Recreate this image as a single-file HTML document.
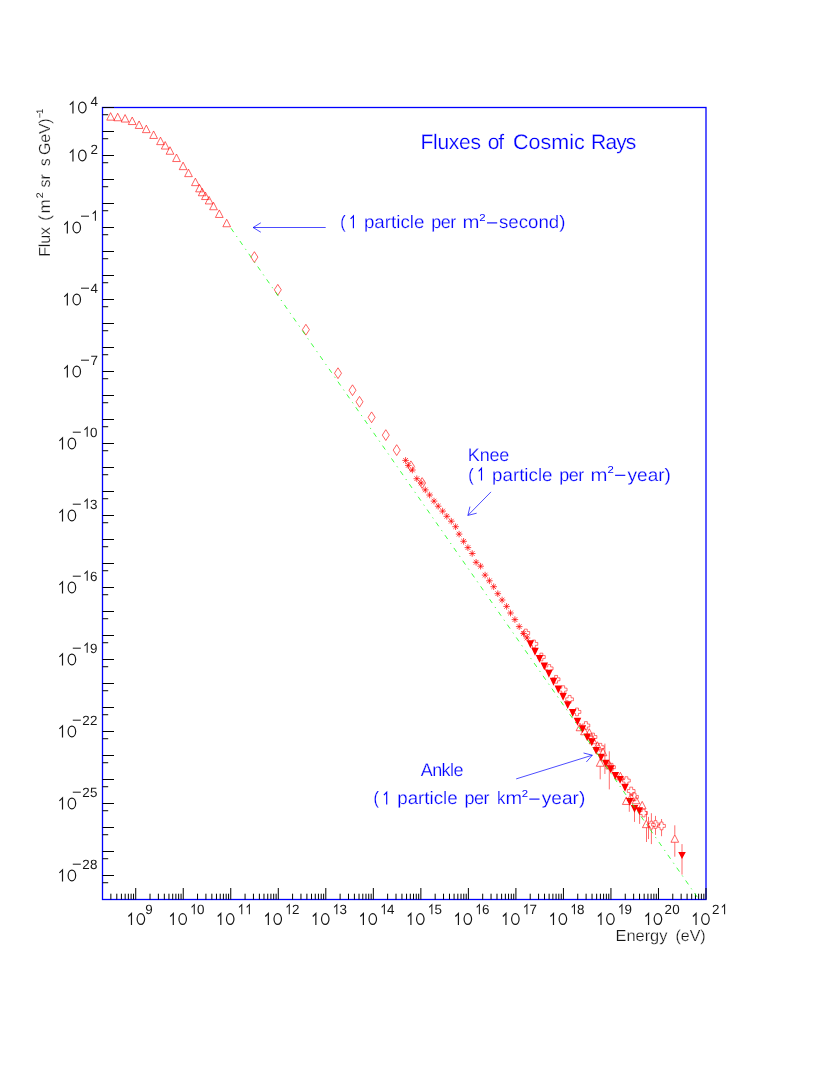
<!DOCTYPE html>
<html><head><meta charset="utf-8"><title>Fluxes of Cosmic Rays</title>
<style>html,body{margin:0;padding:0;background:#fff}svg{display:block;will-change:transform}text{font-family:"Liberation Sans",sans-serif;text-rendering:geometricPrecision}</style></head><body>
<svg width="830" height="1075" viewBox="0 0 830 1075">
<rect width="830" height="1075" fill="#fff"/>
<rect x="102.5" y="107.5" width="603.5" height="792.0" fill="none" stroke="#0000ff" stroke-width="1.3"/>
<path d="M102.5 882.72h5.7M102.5 875.50h11.5M102.5 858.72h5.7M102.5 851.50h11.5M102.5 834.72h5.7M102.5 827.50h11.5M102.5 810.72h5.7M102.5 803.50h11.5M102.5 786.72h5.7M102.5 779.50h11.5M102.5 762.72h5.7M102.5 755.50h11.5M102.5 738.72h5.7M102.5 731.50h11.5M102.5 714.72h5.7M102.5 707.50h11.5M102.5 690.72h5.7M102.5 683.50h11.5M102.5 666.72h5.7M102.5 659.50h11.5M102.5 642.72h5.7M102.5 635.50h11.5M102.5 618.72h5.7M102.5 611.50h11.5M102.5 594.72h5.7M102.5 587.50h11.5M102.5 570.72h5.7M102.5 563.50h11.5M102.5 546.72h5.7M102.5 539.50h11.5M102.5 522.72h5.7M102.5 515.50h11.5M102.5 498.72h5.7M102.5 491.50h11.5M102.5 474.72h5.7M102.5 467.50h11.5M102.5 450.72h5.7M102.5 443.50h11.5M102.5 426.72h5.7M102.5 419.50h11.5M102.5 402.72h5.7M102.5 395.50h11.5M102.5 378.72h5.7M102.5 371.50h11.5M102.5 354.72h5.7M102.5 347.50h11.5M102.5 330.72h5.7M102.5 323.50h11.5M102.5 306.72h5.7M102.5 299.50h11.5M102.5 282.72h5.7M102.5 275.50h11.5M102.5 258.72h5.7M102.5 251.50h11.5M102.5 234.72h5.7M102.5 227.50h11.5M102.5 210.72h5.7M102.5 203.50h11.5M102.5 186.72h5.7M102.5 179.50h11.5M102.5 162.72h5.7M102.5 155.50h11.5M102.5 138.72h5.7M102.5 131.50h11.5M102.5 114.72h5.7M102.5 107.50h11.5M110.87 899.5v-5.8M116.81 899.5v-5.8M121.41 899.5v-5.8M125.17 899.5v-5.8M128.36 899.5v-5.8M131.11 899.5v-5.8M133.54 899.5v-5.8M135.72 899.5v-11.5M150.02 899.5v-5.8M158.39 899.5v-5.8M164.33 899.5v-5.8M168.94 899.5v-5.8M172.70 899.5v-5.8M175.88 899.5v-5.8M178.64 899.5v-5.8M181.07 899.5v-5.8M183.24 899.5v-11.5M197.55 899.5v-5.8M205.92 899.5v-5.8M211.85 899.5v-5.8M216.46 899.5v-5.8M220.22 899.5v-5.8M223.40 899.5v-5.8M226.16 899.5v-5.8M228.59 899.5v-5.8M230.76 899.5v-11.5M245.07 899.5v-5.8M253.44 899.5v-5.8M259.38 899.5v-5.8M263.98 899.5v-5.8M267.75 899.5v-5.8M270.93 899.5v-5.8M273.68 899.5v-5.8M276.11 899.5v-5.8M278.29 899.5v-11.5M292.59 899.5v-5.8M300.96 899.5v-5.8M306.90 899.5v-5.8M311.51 899.5v-5.8M315.27 899.5v-5.8M318.45 899.5v-5.8M321.21 899.5v-5.8M323.64 899.5v-5.8M325.81 899.5v-11.5M340.12 899.5v-5.8M348.49 899.5v-5.8M354.42 899.5v-5.8M359.03 899.5v-5.8M362.79 899.5v-5.8M365.97 899.5v-5.8M368.73 899.5v-5.8M371.16 899.5v-5.8M373.34 899.5v-11.5M387.64 899.5v-5.8M396.01 899.5v-5.8M401.95 899.5v-5.8M406.55 899.5v-5.8M410.32 899.5v-5.8M413.50 899.5v-5.8M416.25 899.5v-5.8M418.68 899.5v-5.8M420.86 899.5v-11.5M435.16 899.5v-5.8M443.53 899.5v-5.8M449.47 899.5v-5.8M454.08 899.5v-5.8M457.84 899.5v-5.8M461.02 899.5v-5.8M463.78 899.5v-5.8M466.21 899.5v-5.8M468.38 899.5v-11.5M482.69 899.5v-5.8M491.06 899.5v-5.8M496.99 899.5v-5.8M501.60 899.5v-5.8M505.36 899.5v-5.8M508.54 899.5v-5.8M511.30 899.5v-5.8M513.73 899.5v-5.8M515.91 899.5v-11.5M530.21 899.5v-5.8M538.58 899.5v-5.8M544.52 899.5v-5.8M549.12 899.5v-5.8M552.89 899.5v-5.8M556.07 899.5v-5.8M558.82 899.5v-5.8M561.25 899.5v-5.8M563.43 899.5v-11.5M577.74 899.5v-5.8M586.10 899.5v-5.8M592.04 899.5v-5.8M596.65 899.5v-5.8M600.41 899.5v-5.8M603.59 899.5v-5.8M606.35 899.5v-5.8M608.78 899.5v-5.8M610.95 899.5v-11.5M625.26 899.5v-5.8M633.63 899.5v-5.8M639.56 899.5v-5.8M644.17 899.5v-5.8M647.93 899.5v-5.8M651.11 899.5v-5.8M653.87 899.5v-5.8M656.30 899.5v-5.8M658.48 899.5v-11.5M672.78 899.5v-5.8M681.15 899.5v-5.8M687.09 899.5v-5.8M691.69 899.5v-5.8M695.46 899.5v-5.8M698.64 899.5v-5.8M701.39 899.5v-5.8M703.83 899.5v-5.8M706.00 899.5v-11.5" stroke="#000000" stroke-width="1" fill="none"/>
<g fill="#161616" stroke="#fff" stroke-width="0.25">
<text x="149.02" y="914.20" font-size="13.4" stroke="none" text-anchor="middle">9</text>
<text x="200.64" y="914.20" font-size="13.4" stroke="none" text-anchor="middle">0</text>
<text x="295.69" y="914.20" font-size="13.4" stroke="none" text-anchor="middle">2</text>
<text x="343.21" y="914.20" font-size="13.4" stroke="none" text-anchor="middle">3</text>
<text x="390.74" y="914.20" font-size="13.4" stroke="none" text-anchor="middle">4</text>
<text x="438.26" y="914.20" font-size="13.4" stroke="none" text-anchor="middle">5</text>
<text x="485.78" y="914.20" font-size="13.4" stroke="none" text-anchor="middle">6</text>
<text x="533.31" y="914.20" font-size="13.4" stroke="none" text-anchor="middle">7</text>
<text x="580.83" y="914.20" font-size="13.4" stroke="none" text-anchor="middle">8</text>
<text x="628.35" y="914.20" font-size="13.4" stroke="none" text-anchor="middle">9</text>
<text x="668.28" y="914.20" font-size="13.4" stroke="none" text-anchor="middle">2</text>
<text x="675.88" y="914.20" font-size="13.4" stroke="none" text-anchor="middle">0</text>
<text x="715.80" y="914.20" font-size="13.4" stroke="none" text-anchor="middle">2</text>
<text x="94.20" y="105.80" font-size="13.4" stroke="none" text-anchor="middle">4</text>
<text x="94.20" y="153.80" font-size="13.4" stroke="none" text-anchor="middle">2</text>
<text x="94.20" y="292.70" font-size="13.4" stroke="none" text-anchor="middle">4</text>
<text x="94.20" y="364.70" font-size="13.4" stroke="none" text-anchor="middle">7</text>
<text x="93.80" y="436.70" font-size="13.4" stroke="none" text-anchor="middle">0</text>
<text x="93.80" y="508.70" font-size="13.4" stroke="none" text-anchor="middle">3</text>
<text x="93.80" y="580.70" font-size="13.4" stroke="none" text-anchor="middle">6</text>
<text x="93.80" y="652.70" font-size="13.4" stroke="none" text-anchor="middle">9</text>
<text x="86.00" y="724.70" font-size="13.4" stroke="none" text-anchor="middle">2</text>
<text x="93.80" y="724.70" font-size="13.4" stroke="none" text-anchor="middle">2</text>
<text x="86.00" y="796.70" font-size="13.4" stroke="none" text-anchor="middle">2</text>
<text x="93.80" y="796.70" font-size="13.4" stroke="none" text-anchor="middle">5</text>
<text x="86.00" y="868.70" font-size="13.4" stroke="none" text-anchor="middle">2</text>
<text x="93.80" y="868.70" font-size="13.4" stroke="none" text-anchor="middle">8</text>
</g>
<path d="M81.00 216.20h8M81.00 288.20h8M81.00 360.20h8M72.80 432.20h8M72.80 504.20h8M72.80 576.20h8M72.80 648.20h8M72.80 720.20h8M72.80 792.20h8M72.80 864.20h8" stroke="#161616" stroke-width="1" fill="none"/>
<path d="M191.54 907.30L194.24 904.70V914.20M239.06 907.30L241.76 904.70V914.20M246.66 907.30L249.36 904.70V914.20M286.59 907.30L289.29 904.70V914.20M334.11 907.30L336.81 904.70V914.20M381.64 907.30L384.34 904.70V914.20M429.16 907.30L431.86 904.70V914.20M476.68 907.30L479.38 904.70V914.20M524.21 907.30L526.91 904.70V914.20M571.73 907.30L574.43 904.70V914.20M619.25 907.30L621.95 904.70V914.20M721.90 907.30L724.60 904.70V914.20M92.70 213.80L95.40 211.20V220.70M84.50 429.80L87.20 427.20V436.70M84.50 501.80L87.20 499.20V508.70M84.50 573.80L87.20 571.20V580.70M84.50 645.80L87.20 643.20V652.70" stroke="#161616" stroke-width="1.05" fill="none"/>
<path d="M128.37 916.45L131.47 913.45V925.00M137.12 919.05a3.75 5.4 0 1 0 7.5 0a3.75 5.4 0 1 0 -7.5 0ZM170.19 916.45L173.29 913.45V925.00M178.94 919.05a3.75 5.4 0 1 0 7.5 0a3.75 5.4 0 1 0 -7.5 0ZM217.71 916.45L220.81 913.45V925.00M226.46 919.05a3.75 5.4 0 1 0 7.5 0a3.75 5.4 0 1 0 -7.5 0ZM265.24 916.45L268.34 913.45V925.00M273.99 919.05a3.75 5.4 0 1 0 7.5 0a3.75 5.4 0 1 0 -7.5 0ZM312.76 916.45L315.86 913.45V925.00M321.51 919.05a3.75 5.4 0 1 0 7.5 0a3.75 5.4 0 1 0 -7.5 0ZM360.29 916.45L363.39 913.45V925.00M369.04 919.05a3.75 5.4 0 1 0 7.5 0a3.75 5.4 0 1 0 -7.5 0ZM407.81 916.45L410.91 913.45V925.00M416.56 919.05a3.75 5.4 0 1 0 7.5 0a3.75 5.4 0 1 0 -7.5 0ZM455.33 916.45L458.43 913.45V925.00M464.08 919.05a3.75 5.4 0 1 0 7.5 0a3.75 5.4 0 1 0 -7.5 0ZM502.86 916.45L505.96 913.45V925.00M511.61 919.05a3.75 5.4 0 1 0 7.5 0a3.75 5.4 0 1 0 -7.5 0ZM550.38 916.45L553.48 913.45V925.00M559.13 919.05a3.75 5.4 0 1 0 7.5 0a3.75 5.4 0 1 0 -7.5 0ZM597.90 916.45L601.00 913.45V925.00M606.65 919.05a3.75 5.4 0 1 0 7.5 0a3.75 5.4 0 1 0 -7.5 0ZM645.43 916.45L648.53 913.45V925.00M654.18 919.05a3.75 5.4 0 1 0 7.5 0a3.75 5.4 0 1 0 -7.5 0ZM692.95 916.45L696.05 913.45V925.00M701.70 919.05a3.75 5.4 0 1 0 7.5 0a3.75 5.4 0 1 0 -7.5 0ZM69.85 104.85L72.95 101.85V113.40M78.60 107.45a3.75 5.4 0 1 0 7.5 0a3.75 5.4 0 1 0 -7.5 0ZM69.85 152.85L72.95 149.85V161.40M78.60 155.45a3.75 5.4 0 1 0 7.5 0a3.75 5.4 0 1 0 -7.5 0ZM64.25 224.85L67.35 221.85V233.40M73.00 227.45a3.75 5.4 0 1 0 7.5 0a3.75 5.4 0 1 0 -7.5 0ZM64.25 296.85L67.35 293.85V305.40M73.00 299.45a3.75 5.4 0 1 0 7.5 0a3.75 5.4 0 1 0 -7.5 0ZM64.25 368.85L67.35 365.85V377.40M73.00 371.45a3.75 5.4 0 1 0 7.5 0a3.75 5.4 0 1 0 -7.5 0ZM59.40 440.85L62.50 437.85V449.40M68.15 443.45a3.75 5.4 0 1 0 7.5 0a3.75 5.4 0 1 0 -7.5 0ZM59.40 512.85L62.50 509.85V521.40M68.15 515.45a3.75 5.4 0 1 0 7.5 0a3.75 5.4 0 1 0 -7.5 0ZM59.40 584.85L62.50 581.85V593.40M68.15 587.45a3.75 5.4 0 1 0 7.5 0a3.75 5.4 0 1 0 -7.5 0ZM59.40 656.85L62.50 653.85V665.40M68.15 659.45a3.75 5.4 0 1 0 7.5 0a3.75 5.4 0 1 0 -7.5 0ZM59.40 728.85L62.50 725.85V737.40M68.15 731.45a3.75 5.4 0 1 0 7.5 0a3.75 5.4 0 1 0 -7.5 0ZM59.40 800.85L62.50 797.85V809.40M68.15 803.45a3.75 5.4 0 1 0 7.5 0a3.75 5.4 0 1 0 -7.5 0ZM59.40 872.85L62.50 869.85V881.40M68.15 875.45a3.75 5.4 0 1 0 7.5 0a3.75 5.4 0 1 0 -7.5 0Z" stroke="#161616" stroke-width="1.2" fill="none" stroke-linejoin="miter"/>
<g fill="#161616" stroke="#fff" stroke-width="0.25">
<text transform="translate(616.80 940.50) scale(1.0253 1)" x="-1.31" y="0" font-size="16" letter-spacing="0.000">Energy</text>
<text transform="translate(676.50 940.50) scale(1.0000 1)" x="-0.99" y="0" font-size="16" letter-spacing="-0.014">(eV)</text>
<g transform="translate(50.3 0) rotate(-90)">
<text transform="translate(-255.50 0.00) scale(1.0000 1)" x="-1.31" y="0" font-size="16" letter-spacing="-0.147">Flux</text>
<text transform="translate(-219.70 0.00) scale(1.0372 1)" x="-0.99" y="0" font-size="16">(</text>
<text transform="translate(-212.40 0.00) scale(1.0615 1)" x="-1.06" y="0" font-size="16">m</text>
<text transform="translate(-187.10 0.00) scale(1.0066 1)" x="-0.45" y="0" font-size="16" letter-spacing="0.000">sr</text>
<text transform="translate(-165.50 0.00) scale(0.9604 1)" x="-0.45" y="0" font-size="16">s</text>
<text transform="translate(-154.30 0.00) scale(1.0000 1)" x="-0.80" y="0" font-size="16" letter-spacing="-0.182">GeV)</text>
<text transform="translate(-197.65 -7.40) scale(1.1300 1)" x="-0.48" y="0" font-size="9.5" stroke="none">2</text>
<text transform="translate(-117.90 -7.80) scale(1.0000 1)" x="-0.47" y="0" font-size="9.5" letter-spacing="-1.199" stroke="none">−1</text>
</g>
</g>
<g fill="#0000ff" stroke="#fff" stroke-width="0.22">
<text transform="translate(422.10 148.80) scale(1.0000 1)" x="-1.72" y="0" font-size="21" letter-spacing="-0.234">Fluxes</text>
<text transform="translate(488.70 148.80) scale(1.0000 1)" x="-0.88" y="0" font-size="21" letter-spacing="-1.363">of</text>
<text transform="translate(514.10 148.80) scale(1.0236 1)" x="-1.07" y="0" font-size="21" letter-spacing="0.000">Cosmic</text>
<text transform="translate(592.80 148.80) scale(1.0000 1)" x="-1.72" y="0" font-size="21" letter-spacing="-0.854">Rays</text>
<text transform="translate(341.15 228.20) scale(0.9000 1)" x="-1.12" y="0" font-size="18">(</text>
<path d="M350.60 218.90L353.40 215.90V228.20" stroke="#0000ff" stroke-width="1.15" fill="none"/>
<text transform="translate(365.10 228.20) scale(1.0434 1)" x="-1.16" y="0" font-size="18" letter-spacing="0.000">particle</text>
<text transform="translate(432.40 228.20) scale(1.0000 1)" x="-1.16" y="0" font-size="18" letter-spacing="-0.528">per</text>
<text transform="translate(463.77 228.20) scale(1.1300 1)" x="-1.20" y="0" font-size="18">m</text>
<text transform="translate(479.93 220.70) scale(1.1300 1)" x="-0.50" y="0" font-size="10" stroke="none">2</text>
<path d="M487.0 222.9h10.2" stroke="#0000ff" stroke-width="1.1" fill="none"/>
<text transform="translate(499.50 228.20) scale(1.0365 1)" x="-0.50" y="0" font-size="18" letter-spacing="0.000">second)</text>
<text transform="translate(469.30 460.80) scale(1.0000 1)" x="-1.48" y="0" font-size="18" letter-spacing="-0.187">Knee</text>
<text transform="translate(469.25 480.60) scale(0.9000 1)" x="-1.12" y="0" font-size="18">(</text>
<path d="M478.70 471.30L481.50 468.30V480.60" stroke="#0000ff" stroke-width="1.15" fill="none"/>
<text transform="translate(493.20 480.60) scale(1.0434 1)" x="-1.16" y="0" font-size="18" letter-spacing="0.000">particle</text>
<text transform="translate(560.50 480.60) scale(1.0000 1)" x="-1.16" y="0" font-size="18" letter-spacing="-0.528">per</text>
<text transform="translate(591.87 480.60) scale(1.1300 1)" x="-1.20" y="0" font-size="18">m</text>
<text transform="translate(608.03 473.10) scale(1.1300 1)" x="-0.50" y="0" font-size="10" stroke="none">2</text>
<path d="M615.1 475.3h10.2" stroke="#0000ff" stroke-width="1.1" fill="none"/>
<text transform="translate(627.60 480.60) scale(1.0565 1)" x="-0.04" y="0" font-size="18" letter-spacing="0.000">year)</text>
<text transform="translate(420.70 776.00) scale(1.0000 1)" x="-0.04" y="0" font-size="18" letter-spacing="-0.548">Ankle</text>
<text transform="translate(374.45 804.40) scale(0.9000 1)" x="-1.12" y="0" font-size="18">(</text>
<path d="M383.90 795.10L386.70 792.10V804.40" stroke="#0000ff" stroke-width="1.15" fill="none"/>
<text transform="translate(398.40 804.40) scale(1.0434 1)" x="-1.16" y="0" font-size="18" letter-spacing="0.000">particle</text>
<text transform="translate(465.70 804.40) scale(1.0000 1)" x="-1.16" y="0" font-size="18" letter-spacing="-0.528">per</text>
<text transform="translate(498.20 804.40) scale(0.9215 1)" x="-1.21" y="0" font-size="18">k</text>
<text transform="translate(506.70 804.40) scale(1.1100 1)" x="-1.20" y="0" font-size="18">m</text>
<text transform="translate(522.23 796.90) scale(1.1300 1)" x="-0.50" y="0" font-size="10" stroke="none">2</text>
<path d="M529.3 799.1h10.2" stroke="#0000ff" stroke-width="1.1" fill="none"/>
<text transform="translate(541.80 804.40) scale(1.0615 1)" x="-0.04" y="0" font-size="18" letter-spacing="0.000">year)</text>
</g>
<path d="M325.70 227.50L253.10 227.50M260.80 222.80L253.10 227.50L260.80 232.20M491.00 491.90L467.90 515.40M469.95 506.61L467.90 515.40L476.65 513.20M516.20 778.90L592.30 755.20M586.35 761.98L592.30 755.20L583.55 753.00" stroke="#0000ff" stroke-width="0.7" fill="none"/>
<path d="M402.30 460.40h6.60M405.60 457.10v6.60M403.27 458.07l4.67 4.67M403.27 462.73l4.67 -4.67M405.00 465.40h6.60M408.30 462.10v6.60M405.97 463.07l4.67 4.67M405.97 467.73l4.67 -4.67M409.10 470.00h6.60M412.40 466.70v6.60M410.07 467.67l4.67 4.67M410.07 472.33l4.67 -4.67M413.50 478.70h6.60M416.80 475.40v6.60M414.47 476.37l4.67 4.67M414.47 481.03l4.67 -4.67M417.90 483.00h6.60M421.20 479.70v6.60M418.87 480.67l4.67 4.67M418.87 485.33l4.67 -4.67M422.00 489.90h6.60M425.30 486.60v6.60M422.97 487.57l4.67 4.67M422.97 492.23l4.67 -4.67M426.30 495.00h6.60M429.60 491.70v6.60M427.27 492.67l4.67 4.67M427.27 497.33l4.67 -4.67M430.70 501.10h6.60M434.00 497.80v6.60M431.67 498.77l4.67 4.67M431.67 503.43l4.67 -4.67M434.90 506.20h6.60M438.20 502.90v6.60M435.87 503.87l4.67 4.67M435.87 508.53l4.67 -4.67M439.30 511.10h6.60M442.60 507.80v6.60M440.27 508.77l4.67 4.67M440.27 513.43l4.67 -4.67M443.50 516.30h6.60M446.80 513.00v6.60M444.47 513.97l4.67 4.67M444.47 518.63l4.67 -4.67M448.00 521.20h6.60M451.30 517.90v6.60M448.97 518.87l4.67 4.67M448.97 523.53l4.67 -4.67M452.30 526.70h6.60M455.60 523.40v6.60M453.27 524.37l4.67 4.67M453.27 529.03l4.67 -4.67M455.80 534.10h6.60M459.10 530.80v6.60M456.77 531.77l4.67 4.67M456.77 536.43l4.67 -4.67M460.30 541.30h6.60M463.60 538.00v6.60M461.27 538.97l4.67 4.67M461.27 543.63l4.67 -4.67M464.60 547.60h6.60M467.90 544.30v6.60M465.57 545.27l4.67 4.67M465.57 549.93l4.67 -4.67M468.90 553.50h6.60M472.20 550.20v6.60M469.87 551.17l4.67 4.67M469.87 555.83l4.67 -4.67M472.80 562.30h6.60M476.10 559.00v6.60M473.77 559.97l4.67 4.67M473.77 564.63l4.67 -4.67M477.30 566.20h6.60M480.60 562.90v6.60M478.27 563.87l4.67 4.67M478.27 568.53l4.67 -4.67M481.80 575.10h6.60M485.10 571.80v6.60M482.77 572.77l4.67 4.67M482.77 577.43l4.67 -4.67M486.10 580.80h6.60M489.40 577.50v6.60M487.07 578.47l4.67 4.67M487.07 583.13l4.67 -4.67M490.40 586.70h6.60M493.70 583.40v6.60M491.37 584.37l4.67 4.67M491.37 589.03l4.67 -4.67M494.50 593.70h6.60M497.80 590.40v6.60M495.47 591.37l4.67 4.67M495.47 596.03l4.67 -4.67M498.80 600.00h6.60M502.10 596.70v6.60M499.77 597.67l4.67 4.67M499.77 602.33l4.67 -4.67M503.30 606.40h6.60M506.60 603.10v6.60M504.27 604.07l4.67 4.67M504.27 608.73l4.67 -4.67M507.20 613.00h6.60M510.50 609.70v6.60M508.17 610.67l4.67 4.67M508.17 615.33l4.67 -4.67M511.60 619.60h6.60M514.90 616.30v6.60M512.57 617.27l4.67 4.67M512.57 621.93l4.67 -4.67M515.90 626.60h6.60M519.20 623.30v6.60M516.87 624.27l4.67 4.67M516.87 628.93l4.67 -4.67M520.30 633.50h6.60M523.60 630.20v6.60M521.27 631.17l4.67 4.67M521.27 635.83l4.67 -4.67M523.70 638.00h6.60M527.00 634.70v6.60M524.67 635.67l4.67 4.67M524.67 640.33l4.67 -4.67" stroke="#ff0000" stroke-width="0.72" fill="none"/>
<path d="M524.35 629.15h2.90v2.40h2.40v2.90h-2.40v2.40h-2.90v-2.40h-2.40v-2.90h2.40ZM532.45 640.05h2.90v2.40h2.40v2.90h-2.40v2.40h-2.90v-2.40h-2.40v-2.90h2.40ZM539.95 653.15h2.90v2.40h2.40v2.90h-2.40v2.40h-2.90v-2.40h-2.40v-2.90h2.40ZM547.75 664.55h2.90v2.40h2.40v2.90h-2.40v2.40h-2.90v-2.40h-2.40v-2.90h2.40ZM554.65 675.45h2.90v2.40h2.40v2.90h-2.40v2.40h-2.90v-2.40h-2.40v-2.90h2.40ZM561.75 685.75h2.90v2.40h2.40v2.90h-2.40v2.40h-2.90v-2.40h-2.40v-2.90h2.40ZM568.15 695.45h2.90v2.40h2.40v2.90h-2.40v2.40h-2.90v-2.40h-2.40v-2.90h2.40ZM575.55 708.05h2.90v2.40h2.40v2.90h-2.40v2.40h-2.90v-2.40h-2.40v-2.90h2.40ZM584.45 721.65h2.90v2.40h2.40v2.90h-2.40v2.40h-2.90v-2.40h-2.40v-2.90h2.40ZM591.55 733.15h2.90v2.40h2.40v2.90h-2.40v2.40h-2.90v-2.40h-2.40v-2.90h2.40ZM598.85 743.35h2.90v2.40h2.40v2.90h-2.40v2.40h-2.90v-2.40h-2.40v-2.90h2.40ZM610.05 763.35h2.90v2.40h2.40v2.90h-2.40v2.40h-2.90v-2.40h-2.40v-2.90h2.40ZM624.95 776.75h2.90v2.40h2.40v2.90h-2.40v2.40h-2.90v-2.40h-2.40v-2.90h2.40ZM629.75 787.15h2.90v2.40h2.40v2.90h-2.40v2.40h-2.90v-2.40h-2.40v-2.90h2.40ZM633.05 793.05h2.90v2.40h2.40v2.90h-2.40v2.40h-2.90v-2.40h-2.40v-2.90h2.40ZM642.15 809.15h2.90v2.40h2.40v2.90h-2.40v2.40h-2.90v-2.40h-2.40v-2.90h2.40ZM649.95 821.25h2.90v2.40h2.40v2.90h-2.40v2.40h-2.90v-2.40h-2.40v-2.90h2.40ZM654.05 820.65h2.90v2.40h2.40v2.90h-2.40v2.40h-2.90v-2.40h-2.40v-2.90h2.40ZM660.10 822.05h2.90v2.40h2.40v2.90h-2.40v2.40h-2.90v-2.40h-2.40v-2.90h2.40Z" stroke="#ff0000" stroke-width="0.55" fill="none"/>
<path d="M600.20 766.40V779.30M604.90 743.60V774.00M609.30 751.30V789.40M629.30 804.00V811.80M634.50 811.80V821.90M639.60 813.70V823.90M682.00 844.10V874.60M674.80 825.30V834.60M674.80 842.40V856.70M655.50 815.90V820.50M655.50 828.50V834.90M661.55 819.00V821.90M661.55 829.90V836.20M651.40 813.20V821.10M651.40 829.10V844.10M646.50 811.30V820.00M646.50 827.70V842.00M648.50 816.90V839.10" stroke="#ff0000" stroke-width="0.58" fill="none"/>
<path d="M106.75 120.15L110.60 112.65L114.45 120.15ZM113.85 120.75L117.70 113.25L121.55 120.75ZM121.25 122.05L125.10 114.55L128.95 122.05ZM128.35 124.55L132.20 117.05L136.05 124.55ZM135.25 128.45L139.10 120.95L142.95 128.45ZM142.45 132.65L146.30 125.15L150.15 132.65ZM149.75 138.45L153.60 130.95L157.45 138.45ZM156.65 144.65L160.50 137.15L164.35 144.65ZM161.35 149.05L165.20 141.55L169.05 149.05ZM166.15 154.25L170.00 146.75L173.85 154.25ZM172.65 161.55L176.50 154.05L180.35 161.55ZM179.25 169.65L183.10 162.15L186.95 169.65ZM184.65 176.65L188.50 169.15L192.35 176.65ZM191.55 185.65L195.40 178.15L199.25 185.65ZM195.65 191.85L199.50 184.35L203.35 191.85ZM198.35 195.75L202.20 188.25L206.05 195.75ZM201.55 199.55L205.40 192.05L209.25 199.55ZM205.25 203.95L209.10 196.45L212.95 203.95ZM209.65 209.75L213.50 202.25L217.35 209.75ZM215.45 217.45L219.30 209.95L223.15 217.45ZM222.85 226.75L226.70 219.25L230.55 226.75ZM254.40 251.70L257.90 257.10L254.40 262.50L250.90 257.10ZM277.80 284.40L281.30 289.80L277.80 295.20L274.30 289.80ZM305.90 324.30L309.40 329.70L305.90 335.10L302.40 329.70ZM338.00 367.80L341.50 373.20L338.00 378.60L334.50 373.20ZM352.50 384.80L356.00 390.20L352.50 395.60L349.00 390.20ZM359.50 396.40L363.00 401.80L359.50 407.20L356.00 401.80ZM371.60 411.90L375.10 417.30L371.60 422.70L368.10 417.30ZM385.80 429.70L389.30 435.10L385.80 440.50L382.30 435.10ZM396.70 444.70L400.20 450.10L396.70 455.50L393.20 450.10ZM410.90 460.90L414.40 466.30L410.90 471.70L407.40 466.30ZM422.10 477.60L425.60 483.00L422.10 488.40L418.60 483.00ZM576.15 730.75L580.00 723.25L583.85 730.75ZM580.65 734.75L584.50 727.25L588.35 734.75ZM585.45 736.25L589.30 728.75L593.15 736.25ZM589.15 743.75L593.00 736.25L596.85 743.75ZM593.65 749.25L597.50 741.75L601.35 749.25ZM596.35 766.25L600.20 758.75L604.05 766.25ZM599.15 755.75L603.00 748.25L606.85 755.75ZM605.85 768.95L609.70 761.45L613.55 768.95ZM616.55 779.85L620.40 772.35L624.25 779.85ZM622.45 804.45L626.30 796.95L630.15 804.45ZM627.15 800.75L631.00 793.25L634.85 800.75ZM632.15 803.75L636.00 796.25L639.85 803.75ZM638.35 808.85L642.20 801.35L646.05 808.85ZM642.45 827.65L646.30 820.15L650.15 827.65ZM670.95 842.25L674.80 834.75L678.65 842.25Z" stroke="#ff0000" stroke-width="0.62" fill="none"/>
<path d="M526.65 640.25L534.15 640.25L530.40 648.15ZM531.25 647.85L538.75 647.85L535.00 655.75ZM535.75 654.95L543.25 654.95L539.50 662.85ZM540.55 662.45L548.05 662.45L544.30 670.35ZM545.15 669.85L552.65 669.85L548.90 677.75ZM549.75 677.75L557.25 677.75L553.50 685.65ZM554.55 685.55L562.05 685.55L558.30 693.45ZM559.35 692.85L566.85 692.85L563.10 700.75ZM563.95 701.15L571.45 701.15L567.70 709.05ZM568.95 709.05L576.45 709.05L572.70 716.95ZM573.75 717.75L581.25 717.75L577.50 725.65ZM578.65 725.15L586.15 725.15L582.40 733.05ZM583.45 733.45L590.95 733.45L587.20 741.35ZM588.05 738.35L595.55 738.35L591.80 746.25ZM592.45 746.95L599.95 746.95L596.20 754.85ZM597.25 753.65L604.75 753.65L601.00 761.55ZM602.05 759.75L609.55 759.75L605.80 767.65ZM606.95 765.35L614.45 765.35L610.70 773.25ZM611.55 772.05L619.05 772.05L615.30 779.95ZM616.35 775.95L623.85 775.95L620.10 783.85ZM621.25 783.75L628.75 783.75L625.00 791.65ZM625.95 797.95L633.45 797.95L629.70 805.85ZM630.75 804.95L638.25 804.95L634.50 812.85ZM635.55 807.15L643.05 807.15L639.30 815.05ZM678.20 852.10L685.80 852.10L682.00 859.10Z" fill="#ff0000" stroke="none"/>
<path d="M228.50 224.68L698.92 899.50" stroke="#00ff00" stroke-width="0.75" fill="none" stroke-dasharray="4.8 4.8 1.2 4.79" stroke-dashoffset="-4.28"/>
</svg></body></html>
